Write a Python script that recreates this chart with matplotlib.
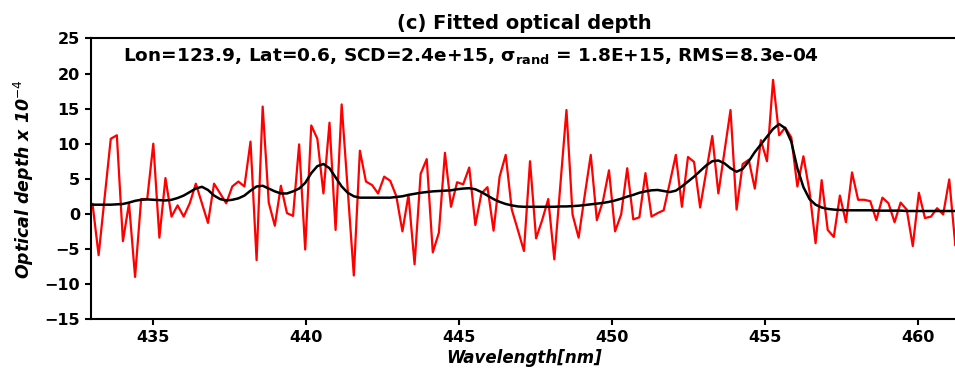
import matplotlib
matplotlib.use("Agg")
import matplotlib.pyplot as plt
import numpy as np

# wavelength grid (nm): first sample and spacing
wl_start = 433.03
wl_step = 0.1985

# measured optical depth (x 1e-4), red
measured = [
    1.4, -5.9, 2.4, 10.7, 11.2, -3.9, 1.5, -9.0, 2.1, 2.1,
    10.0, -3.4, 5.1, -0.4, 1.2, -0.4, 1.5, 4.3, 1.5, -1.3,
    4.3, 2.9, 1.5, 3.9, 4.6, 3.9, 10.3, -6.6, 15.3, 1.6,
    -1.7, 4.0, 0.1, -0.3, 9.9, -5.1, 12.6, 10.7, 2.9, 13.0,
    -2.3, 15.6, 3.4, -8.8, 9.0, 4.6, 4.1, 2.9, 5.3, 4.7,
    2.5, -2.5, 2.7, -7.2, 5.7, 7.8, -5.5, -2.7, 8.7, 1.0,
    4.5, 4.2, 6.6, -1.6, 2.9, 3.8, -2.4, 5.3, 8.4, 0.6,
    -2.3, -5.3, 7.5, -3.5, -0.9, 2.1, -6.5, 4.1, 14.8, -0.1,
    -3.4, 2.6, 8.4, -0.9, 1.8, 6.2, -2.5, -0.1, 6.5, -0.8,
    -0.5, 5.8, -0.4, 0.1, 0.5, 4.4, 8.4, 1.0, 8.1, 7.4,
    0.9, 6.0, 11.1, 2.9, 8.9, 14.8, 0.6, 7.1, 7.7, 3.6,
    10.5, 7.5, 19.1, 11.2, 12.3, 10.9, 3.9, 8.2, 3.2, -4.2,
    4.8, -2.3, -3.3, 2.6, -1.2, 5.9, 2.0, 2.0, 1.8, -0.9,
    2.3, 1.5, -1.2, 1.6, 0.6, -4.6, 3.0, -0.6, -0.4, 0.8,
    -0.1, 4.9, -4.5, 0.0,
]

# fitted optical depth (x 1e-4), black
fitted = [
    1.3, 1.3, 1.3, 1.3, 1.35, 1.4, 1.6, 1.85, 2.0, 2.05,
    2.0, 1.95, 1.9, 2.0, 2.25, 2.6, 3.1, 3.6, 3.85, 3.4,
    2.6, 2.1, 1.9, 2.0, 2.2, 2.6, 3.3, 3.9, 4.0, 3.6,
    3.2, 2.9, 2.9, 3.2, 3.6, 4.4, 5.8, 6.8, 7.1, 6.5,
    5.2, 3.9, 3.0, 2.5, 2.3, 2.3, 2.3, 2.3, 2.3, 2.3,
    2.4, 2.5, 2.7, 2.85, 3.0, 3.1, 3.2, 3.25, 3.3, 3.35,
    3.5, 3.6, 3.65, 3.5, 3.1, 2.6, 2.1, 1.7, 1.4, 1.2,
    1.05, 1.0, 1.0, 1.0, 1.0, 1.0, 1.0, 1.05, 1.05, 1.1,
    1.15, 1.25, 1.35, 1.45, 1.55, 1.7, 1.9, 2.15, 2.45, 2.7,
    3.0, 3.2, 3.35, 3.4, 3.25, 3.1, 3.3, 3.9, 4.6, 5.3,
    6.1, 6.9, 7.5, 7.6, 7.2, 6.5, 6.0, 6.4, 7.5, 8.8,
    9.9, 11.0, 12.1, 12.8, 12.2, 10.3, 6.5, 3.8, 2.1, 1.3,
    0.9, 0.7, 0.6, 0.55, 0.5, 0.5, 0.5, 0.5, 0.5, 0.45,
    0.45, 0.45, 0.45, 0.45, 0.4, 0.4, 0.4, 0.4, 0.4, 0.4,
    0.4, 0.4, 0.4, 0.4,
]

x_limits = (432.98, 461.3)
y_limits = (-15, 25)
x_ticks = [435, 440, 445, 450, 455, 460]
y_ticks = list(range(-15, 26, 5))

annotation = (r"Lon=123.9, Lat=0.6, SCD=2.4e+15, σ$_{\mathbf{rand}}$ = 1.8E+15, "
              r"RMS=8.3e-04")


def main() -> None:
    wavelength = wl_start + wl_step * np.arange(len(measured))

    fig = plt.figure(figsize=(9.55, 3.73), dpi=100, facecolor="white")
    ax = fig.add_axes([0.0953, 0.1448, 0.9077, 0.752])
    ax.plot(wavelength, measured, color="red", linewidth=1.6)
    ax.plot(wavelength, fitted, color="black", linewidth=1.8)

    ax.set_xlim(*x_limits)
    ax.set_ylim(*y_limits)
    ax.set_xticks(x_ticks)
    ax.set_yticks(y_ticks)
    for label in ax.get_xticklabels() + ax.get_yticklabels():
        label.set_fontweight("bold")
        label.set_fontsize(11.5)
    ax.tick_params(width=1.5, length=4.5)
    for spine in ax.spines.values():
        spine.set_linewidth(1.5)

    ax.set_title("(c) Fitted optical depth", fontsize=14, fontweight="bold", pad=7)
    ax.set_xlabel("Wavelength[nm]", fontsize=12, fontweight="bold", style="italic",
                  labelpad=3)
    ax.set_ylabel(r"Optical depth x 10$^{-4}$", fontsize=12.5, fontweight="bold",
                  style="italic", labelpad=6)
    ax.text(0.037, 0.975, annotation, transform=ax.transAxes, fontsize=13.3,
            fontweight="bold", va="top", ha="left")

    fig.savefig("out.png", dpi=100, facecolor="white")
    plt.close(fig)


if __name__ == "__main__":
    main()
